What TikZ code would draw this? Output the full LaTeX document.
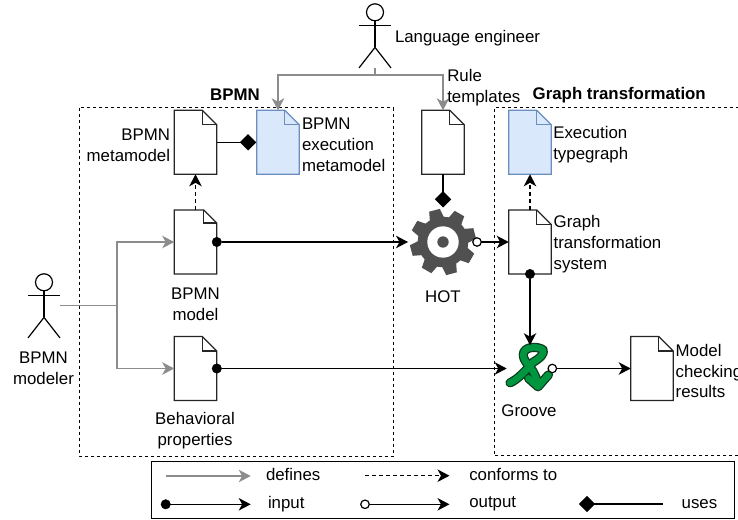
\documentclass[tikz,border=0pt]{standalone}
\usepackage{fontspec}
\setmainfont{Liberation Sans}
\usetikzlibrary{arrows.meta,calc}
\definecolor{defgray}{HTML}{8C8C8C}
\definecolor{blueF}{HTML}{DAE8FC}
\definecolor{blueS}{HTML}{6C8EBF}
\definecolor{gearc}{HTML}{505050}
\definecolor{grooveF}{HTML}{009640}
\definecolor{grooveS}{HTML}{0B3B1E}
\tikzset{
  docbase/.style={rectangle,minimum width=42.6bp,minimum height=64bp,inner sep=0pt,outer sep=0pt},
  plaindoc/.style={draw=black!85,fill=white,line width=1.2bp,line join=miter},
  bluedoc/.style={draw=blueS,fill=blueF,line width=1.2bp,line join=miter},
  lbl/.style={inner sep=0pt,outer sep=0pt,font=\fontsize{16.9}{21}\selectfont},
  lleft/.style={lbl,anchor=west,align=left},
  lright/.style={lbl,anchor=east,align=right},
  lmid/.style={lbl,anchor=center,align=center},
  ttl/.style={inner sep=0pt,outer sep=0pt,font=\fontsize{16.9}{21}\selectfont\bfseries},
  tip/.style={-{Stealth[length=12bp,width=12.5bp,inset=3.5bp]}},
  defarrow/.style={draw=defgray,line width=1.5bp,tip},
  flow/.style={draw=black,line width=1.3bp,tip},
  confarrow/.style={draw=black,line width=1.5bp,dash pattern=on 4bp off 3bp,tip},
  usesline/.style={draw=black,line width=1.3bp},
  dotin/.style={circle,fill=black,draw=black,minimum size=9.5bp,inner sep=0pt,outer sep=0pt},
  dotout/.style={circle,fill=white,draw=black,line width=1.2bp,minimum size=8.5bp,inner sep=0pt,outer sep=0pt},
  region/.style={draw=black,line width=1bp,dash pattern=on 3bp off 3bp},
  actorline/.style={draw=black,line width=1.2bp},
  anchorspot/.style={circle,minimum size=#1,inner sep=0pt,outer sep=0pt},
}
\newcommand{\docshape}[4]{%
  \node[docbase] (#1) at (#2) {};
  \draw[#3] (#1.north west) -- ($(#1.north east)+(-#4,0)$) -- ($(#1.north east)+(0,#4)$) -- (#1.south east) -- (#1.south west) -- cycle;
  \draw[#3,fill=none] ($(#1.north east)+(-#4,0)$) -- ($(#1.north east)+(-#4,#4)$) -- ($(#1.north east)+(0,#4)$);
}
\newcommand{\actor}[3]{% name, x, y of head centre
  \node[circle,draw=black,line width=1.2bp,minimum size=17bp,inner sep=0pt] (#1) at (#2,#3) {};
  \draw[actorline] (#1.south) -- ++(0,26) coordinate (#1hip);
  \draw[actorline] ($(#1.south)+(-16,4.3)$) -- ($(#1.south)+(16,4.3)$);
  \draw[actorline] ($(#1hip)+(-16,20.5)$) -- (#1hip) -- ($(#1hip)+(16,20.5)$);
}
\newcommand{\usesdiamond}[2]{% name, position
  \node[inner sep=0pt,outer sep=0pt,minimum size=0pt] (#1) at (#2) {};
  \fill[black] ($(#1)+(-8.2,0)$) -- ($(#1)+(0,-8.2)$) -- ($(#1)+(8.2,0)$) -- ($(#1)+(0,8.2)$) -- cycle;
}
\begin{document}
\begin{tikzpicture}[x=1bp,y=-1bp]
\useasboundingbox (0,0) rectangle (738,520);
\clip (0,0) rectangle (738,520);
\fill[white] (0,0) rectangle (738,520);

% regions
\coordinate (rA) at (79,107.7);
\coordinate (rB) at (393.3,456);
\draw[region] (rA) rectangle (rB);
\coordinate (gA) at (745,107.7);
\coordinate (gB) at (494,107.7);
\coordinate (gC) at (494,455.7);
\coordinate (gD) at (745,455.7);
\draw[region] (gA) -- (gB) -- (gC) -- (gD);
\node[ttl] (tbpmn) at (235,94.8) {BPMN};
\node[ttl,anchor=west] (tgraph) at (532.7,94.8) {Graph transformation};

% documents
\docshape{meta}{195.5,142.3}{plaindoc}{14.5}
\docshape{exec}{278,142.3}{bluedoc}{14.5}
\docshape{model}{195.5,242}{plaindoc}{13}
\docshape{behav}{195.5,368.5}{plaindoc}{14.5}
\docshape{rule}{443,142.3}{plaindoc}{14.5}
\docshape{type}{530,142.3}{bluedoc}{14.5}
\docshape{gts}{530,242}{plaindoc}{14.5}
\docshape{res}{652,368.5}{plaindoc}{14.5}

% actors
\actor{eng}{375}{12.3}
\actor{mod}{44}{282.3}
\coordinate (engfoot) at (375,68);
\coordinate (engjoin) at (375,75);
\coordinate (modhand) at (60,305.5);
\coordinate (modjoin) at (117,305.5);

% gear
\node[anchorspot=70bp] (hot) at (443,242) {};
\begin{scope}[shift={(hot)}]
  \fill[gearc] (0,0) circle (25.3);
  \foreach \a in {-15,30,75,120,165,210,255,300}
    \fill[gearc] (\a-18:24) -- (\a-9.5:33.3) -- (\a+9.5:33.3) -- (\a+18:24) -- cycle;
  \fill[white] (0,0) circle (15.7);
  \fill[gearc] (0,0) circle (5.7);
\end{scope}

% groove icon
\node[anchorspot=46.6bp] (groove) at (530,368.5) {};
\begin{scope}[shift={(530,368.3)},line cap=round,line join=round]
  \foreach \c/\w in {grooveS/9.2,grooveF/6.6}{
    \draw[\c,line width=\w bp]
      (-20,14.5) .. controls (-12,11) and (-4,2) .. (3,-6)
      .. controls (10,-10) and (15,-15) .. (13,-18.5)
      .. controls (8,-22) and (-3,-22) .. (-6,-16.5)
      .. controls (-9,-10) and (-2,-4) .. (3,3)
      .. controls (5,7) and (7,11) .. (8,16);
    \draw[\c,line width=\w bp] (-1.5,10) -- (8,18.5) -- (18.5,6.5);
  }
\end{scope}

% connectors: defines
\draw[draw=defgray,line width=1.5bp] (engfoot) -- (engjoin);
\draw[defarrow] (engjoin) -| (exec.north);
\draw[defarrow] (engjoin) -| (rule.north);
\draw[draw=defgray,line width=1.5bp] (modhand) -- (modjoin);
\draw[defarrow] (modjoin) |- (model.west);
\draw[defarrow] (modjoin) |- (behav.west);

% connectors: conforms
\draw[confarrow] (model.north) -- (meta.south);
\draw[confarrow] (gts.north) -- (type.south);

% connectors: uses
\usesdiamond{umeta}{248,142.3}
\draw[usesline] (meta.east) -- (umeta);
\usesdiamond{urule}{443,199.3}
\draw[usesline] (rule.south) -- (urule);

% connectors: input and output
\node[dotin] (imodel) at (model.east) {};
\draw[flow] (imodel) -- (hot.west);
\node[dotin] (ibehav) at (behav.east) {};
\draw[flow] (ibehav) -- (groove.west);
\node[dotin] (igts) at (gts.south) {};
\draw[flow] (igts) -- (groove.north);
\node[dotout] (ohot) at (477,242) {};
\draw[flow] (ohot) -- (gts.west);
\node[dotout] (ogroove) at (552.3,368.5) {};
\draw[flow] (ogroove) -- (res.west);

% labels
\node[lleft] (lengl) at (395,38) {Language engineer};
\node[lleft] (lrule) at (447.3,88) {Rule\\templates};
\node[lright] (lmeta) at (170,145) {BPMN\\metamodel};
\node[lleft] (lexec) at (302,145) {BPMN\\execution\\metamodel};
\node[lleft] (ltype) at (553.3,145) {Execution\\typegraph};
\node[lleft] (lgts) at (553.7,244.3) {Graph\\transformation\\system};
\node[lmid] (lhot) at (443,297) {HOT};
\node[lmid] (lmodel) at (195.5,304.5) {BPMN\\model};
\node[lmid] (lbehav) at (195,430.5) {Behavioral\\properties};
\node[lmid] (lmod) at (43.5,368.5) {BPMN\\modeler};
\node[lmid] (lgroove) at (529,411) {Groove};
\node[lleft] (lres) at (675.7,371) {Model\\checking\\results};

% legend
\node[draw=black,line width=1.3bp,inner sep=0pt,minimum width=582.6bp,minimum height=56.6bp] (legend) at (443,490) {};
\coordinate (a1s) at (166,476);
\coordinate (a1e) at (250.7,476);
\draw[defarrow] (a1s) -- (a1e);
\node[lleft] (tdef) at (266,474) {defines};
\coordinate (a2s) at (365,475.7);
\coordinate (a2e) at (449.5,475.7);
\draw[confarrow] (a2s) -- (a2e);
\node[lleft] (tconf) at (469.3,474) {conforms to};
\node[dotin] (a3s) at (165.7,504.3) {};
\coordinate (a3e) at (250.7,504.3);
\draw[flow] (a3s) -- (a3e);
\node[lleft] (tinput) at (268,504) {input};
\node[dotout] (a4s) at (365,504.3) {};
\coordinate (a4e) at (449.5,504.3);
\draw[flow] (a4s) -- (a4e);
\node[lleft] (toutput) at (469.3,504) {output};
\usesdiamond{a5s}{587,504}
\coordinate (a5e) at (663,504);
\draw[usesline] (a5s) -- (a5e);
\node[lleft] (tuses) at (681.7,504) {uses};
\end{tikzpicture}
\end{document}
